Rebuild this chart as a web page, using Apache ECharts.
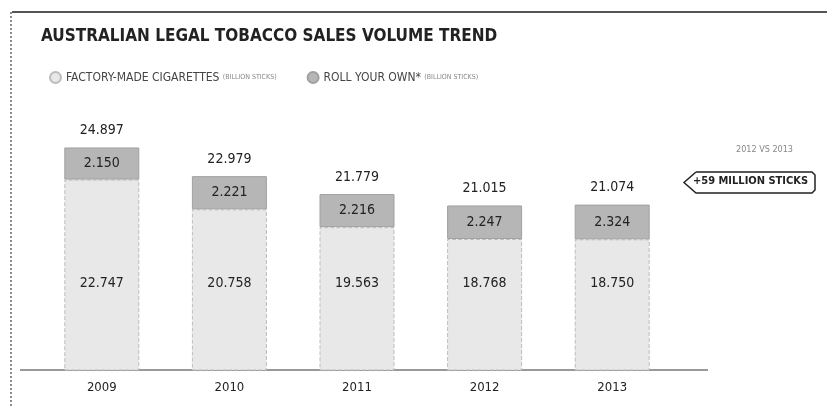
<!DOCTYPE html>
<html><head><meta charset="utf-8">
<script src="https://cdn.jsdelivr.net/npm/echarts@6/dist/echarts.min.js"></script>
<style>html,body{margin:0;padding:0;background:#fff}#c{width:827px;height:407px}</style>
</head><body><div id="c"></div>
<script>
const years = ['2009','2010','2011','2012','2013'];
const factoryMade = [22.747, 20.758, 19.563, 18.768, 18.750];
const rollYourOwn = [2.150, 2.221, 2.216, 2.247, 2.324];
const totals = [24.897, 22.979, 21.779, 21.015, 21.074];

const F = "'DejaVu Sans Condensed','DejaVu Sans',sans-serif";
const CS = 'condensed';
const fmt = v => v.toFixed(3);
const chart = echarts.init(document.getElementById('c'));
chart.setOption({
  animation: false,
  backgroundColor: '#fff',
  title: {
    text: 'AUSTRALIAN LEGAL TOBACCO SALES VOLUME TREND',
    left: 36, top: 23,
    textStyle: { fontFamily: F, fontStyle: CS, fontSize: 17, fontWeight: 'bold', color: '#222' }
  },
  legend: {
    left: 44, top: 66, itemGap: 30, icon: 'circle', itemWidth: 11, itemHeight: 11,
    data: ['FACTORY-MADE CIGARETTES', 'ROLL YOUR OWN*'],
    formatter: n => '{a|' + n + '} {b|(BILLION STICKS)}',
    textStyle: {
      rich: {
        a: { fontFamily: F, fontStyle: CS, fontSize: 12, color: '#444' },
        b: { fontFamily: F, fontStyle: CS, fontSize: 7, color: '#888' }
      }
    }
  },
  grid: { left: 38, right: 151, top: 131, bottom: 37 },
  xAxis: {
    type: 'category', data: years,
    axisLine: { show: false }, axisTick: { show: false },
    axisLabel: { fontFamily: F, fontStyle: CS, fontSize: 13, color: '#222', margin: 11 }
  },
  yAxis: { type: 'value', min: 10, max: 26, show: false, splitLine: { show: false } },
  series: [
    {
      name: 'FACTORY-MADE CIGARETTES', type: 'bar', stack: 's', barWidth: 75,
      data: factoryMade,
      itemStyle: { color: '#e8e8e8', borderColor: '#bdbdbd', borderWidth: 1, borderType: 'dashed' },
      label: { show: true, position: 'insideBottom', distance: 80, formatter: p => fmt(p.value),
        fontFamily: F, fontStyle: CS, fontSize: 14, color: '#222' }
    },
    {
      name: 'ROLL YOUR OWN*', type: 'bar', stack: 's', barWidth: 75,
      data: rollYourOwn,
      itemStyle: { color: '#b6b6b6', borderColor: '#a0a0a0', borderWidth: 1 },
      label: { show: true, position: 'inside', formatter: p => fmt(p.value),
        fontFamily: F, fontStyle: CS, fontSize: 14, color: '#222' }
    },
    {
      name: 'total', type: 'bar', stack: 's', barWidth: 75,
      data: totals.map(() => 0),
      itemStyle: { color: 'transparent' },
      label: { show: true, position: 'top', distance: 10,
        formatter: p => fmt(totals[p.dataIndex]),
        fontFamily: F, fontStyle: CS, fontSize: 14, color: '#222' }
    }
  ],
  graphic: [
    { type: 'line', shape: { x1: 12, y1: 12, x2: 827, y2: 12 }, style: { stroke: '#555', lineWidth: 2 } },
    { type: 'line', shape: { x1: 11, y1: 12, x2: 11, y2: 407 }, style: { stroke: '#666', lineWidth: 1.5, lineDash: [2, 2] } },
    { type: 'line', shape: { x1: 20, y1: 370, x2: 708, y2: 370 }, style: { stroke: '#777', lineWidth: 1.5 } },
    { type: 'text', left: 736, top: 145, style: { text: '2012 VS 2013', fontFamily: F, fontStyle: CS, fontSize: 9, fill: '#888' } },
    { type: 'polyline', shape: { points: [[696,172],[812,172],[815,175],[815,190],[812,193],[696,193],[684,182.5],[696,172]] },
      style: { fill: '#fff', stroke: '#222', lineWidth: 1.5 } },
    { type: 'text', left: 693, top: 176, style: { text: '+59 MILLION STICKS', fontFamily: F, fontStyle: CS, fontSize: 11, fontWeight: 'bold', fill: '#222' } }
  ]
});
</script></body></html>
